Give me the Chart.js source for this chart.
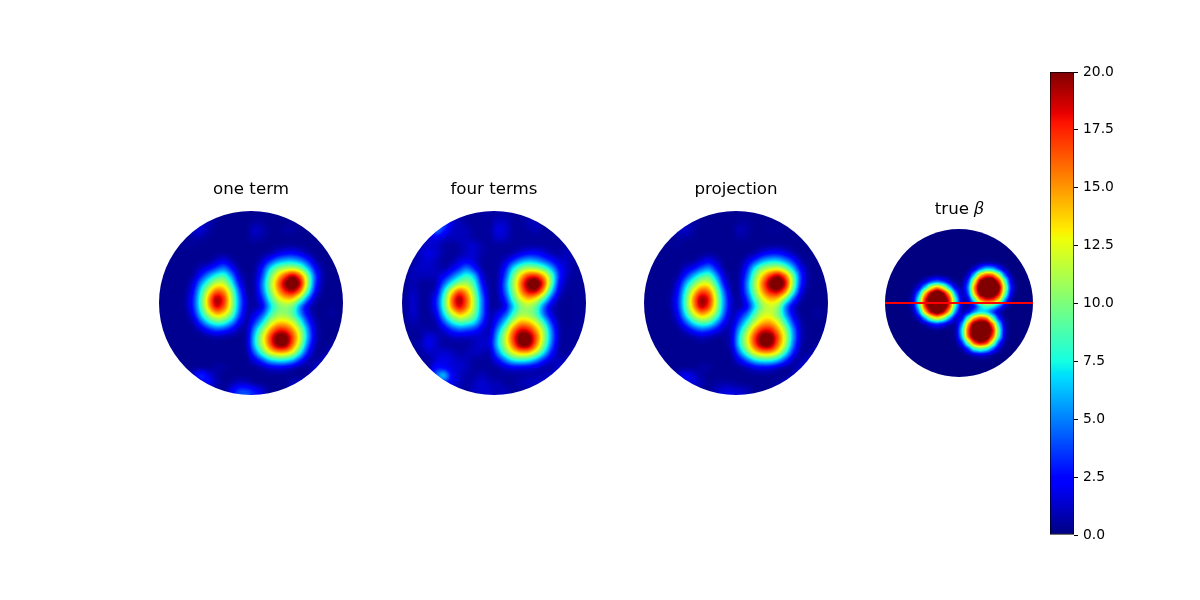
<!DOCTYPE html>
<html>
<head>
<meta charset="utf-8">
<style>
html,body{margin:0;padding:0;background:#fff;width:1200px;height:600px;overflow:hidden}
canvas{position:absolute;display:block}
</style>
<script src="https://cdn.jsdelivr.net/npm/chart.js@4"></script>
</head>
<body>
<canvas id="c0"></canvas><canvas id="c1"></canvas><canvas id="c2"></canvas><canvas id="c3"></canvas><canvas id="cb"></canvas>
<script>
const panelTitles = ['one term', 'four terms', 'projection', 'true \u{1D6FD}'];
const colorbarTicks = [0, 2.5, 5, 7.5, 10, 12.5, 15, 17.5, 20];
const trueLineX = [-0.5, 23.5];
const trueLineY = [11.5, 11.5];

const oneTerm = [
[.3,.3,.3,.3,.3,.3,.3,.3,.3,.3,.4,.4,.4,.4,.3,.3,.3,.3,.3,.3,.3,.3,.3,.3],
[.3,.3,.3,.3,.3,1,1,.5,.3,.3,.3,.3,.5,.5,.3,.3,.3,.3,.3,.3,.3,.3,.3,.3],
[.3,.3,.3,.3,1.5,1.8,.7,.3,.3,.3,.3,.3,1.5,1,.3,.3,.7,.7,.3,.3,.3,.3,.3,.3],
[.3,.3,.3,.3,.7,.7,.4,.3,.3,.3,.3,.3,1,.6,.3,.3,.3,.3,.3,.3,.3,.3,.3,.3],
[.3,.3,.3,.6,.5,.3,.3,.3,.3,.3,.3,.3,.3,.3,.3,.3,.4,.4,.3,.3,.3,.3,.3,.3],
[.3,.3,.3,.3,.3,.3,.3,.3,.3,.3,.3,.3,.3,.3,.5,1.3,2,2.2,1.5,.5,.3,.3,.3,.3],
[.3,.3,.3,.3,.3,.3,.3,1,2,.7,.3,.3,.3,1,3,5,6,6,5,3,.5,.3,.3,.3],
[.3,.3,.3,.3,.3,1,2,3.5,5,2.5,.4,.3,.3,2.5,7,10,11,11.5,10,6,2,.4,.3,.3],
[.3,.3,.3,.3,.4,2.8,5.5,8,9,5.5,1,.3,.5,3.5,9.5,13.5,17,20,16.5,10,3.2,.5,.3,.3],
[.3,.3,.3,.3,1.4,5.5,9,12,12,8,2.2,.3,.6,4.8,10.5,15.5,20.5,23,19.5,10.5,2.8,.4,.3,.3],
[.3,.3,.3,.3,2.2,7.5,12.5,16.5,15.5,10.5,4,.3,.5,4.3,10,14.5,18,19.5,16,8.5,1.7,.3,.3,.3],
[.3,.3,.3,.5,2.8,8.5,15,20.5,18,11.5,5,.8,.4,2.8,8,12,14,14,10,4,.6,.3,.3,.3],
[.4,.3,.3,.5,2.8,8.5,14.5,19.5,17,11.5,5,.8,.3,1.4,6,9.5,10.5,9.5,4.2,1,.3,.3,.4,.3],
[.3,.3,.3,.3,2,7,11.5,14.5,13.5,10,4,.4,1.8,3.6,8,10.5,10.5,9,5,1.6,.3,.3,.7,.3],
[.3,.3,.3,.3,.7,4,7.5,9.5,9,6,2.2,.4,3,6.5,11,13.5,13.5,12,8,3.2,.6,.3,.3,.3],
[.3,.3,.3,.3,.3,1.1,2.8,4,3.4,2.2,.7,.4,5.5,10,14.5,17.5,17.5,15,11,5,.8,.3,.3,.3],
[.3,.3,.3,.3,.3,.3,.4,.6,.5,.3,.3,.4,7,12,17,21.5,21.5,17,12,5.5,.8,.3,.3,.3],
[.3,.3,.3,.3,.3,.3,.3,.3,.3,.3,.3,.5,7,11.5,16.5,21,21,16,11,4,.6,.3,.6,.3],
[.3,.3,.3,.3,.3,.3,.3,.3,.3,.3,.3,.3,4.5,9,13,14.5,14.5,12.5,7.5,2.3,.3,.3,1.5,.3],
[.3,.3,.3,.3,.3,.3,.3,.3,.3,.3,.3,.3,1.6,3.8,6.5,7.5,7.5,6,2.8,.7,.3,1.6,1,.3],
[.3,.3,.3,.3,.3,.3,.3,.7,.7,.3,.3,.3,.3,.6,1.2,1.5,1.3,.6,.3,.3,1.5,1.5,.3,.3],
[.3,.3,.3,.3,1.6,4,2,.7,.3,.3,.3,.3,.3,.3,.3,.3,.3,.3,.3,.6,1.5,.3,.3,.3],
[.3,.3,.3,.3,.3,2,2.5,1,.3,.7,1.2,1,.3,.3,.3,.3,.3,1,1.5,1.5,.3,.3,.3,.3],
[.3,.3,.3,.3,.3,.3,.3,.3,.3,2,4,4,3,1.6,.3,.3,.3,1.5,1.8,.3,.3,.3,.3,.3]
];

const fourTerms = [
[.5,.5,.5,.5,.5,.5,.5,.5,.5,.5,.7,.7,.7,.7,.5,.5,.5,.5,.5,.5,.5,.5,.5,.5],
[.5,.5,.5,.5,1.5,5,1.5,1,.6,.5,.5,.5,1.2,1.2,.5,.5,1,1.2,.6,.5,.5,.5,.5,.5],
[.5,.5,.5,1.5,6,3,1.2,1,1,.5,.5,.5,2,1.5,.5,.5,.6,1,.5,.5,.5,.5,.5,.5],
[.5,.5,.5,1.5,2,1.2,1,1.2,1,.5,.5,.5,1.6,1.2,.5,.5,.5,.5,.5,.5,.5,.5,.5,.5],
[.5,.5,1,1.3,1.2,.7,.5,.7,1.2,1.5,.7,.5,.5,.5,.5,.5,.5,.5,.5,.5,.5,.7,.5,.5],
[.5,.5,1.2,2,1.4,.7,.5,.5,1.2,1.5,.7,.5,.5,.5,.6,1.3,2,2.2,1.5,.7,.6,1.2,.5,.5],
[.5,.5,1.2,1.5,1,.5,.5,1.5,2,1.2,.5,.5,.5,1,3,5,6,5.5,4,2.5,1.2,1.2,.5,.5],
[.5,1,1.2,1.2,1,.5,1.5,3,5,2.5,.5,.5,.5,2.5,7,10,11,10.5,9,6,2.5,1.2,.5,.5],
[.5,1,1,1,1,2,4,6.5,8.5,6.5,1,.5,.5,3.5,9.5,14,17.5,18,15,10,3.2,1,.5,.5],
[.5,1,.5,.5,.6,4.2,7.5,10.5,11,8.5,2.2,.4,.5,4.8,10.5,16,21,23,18,10,2.2,.7,.5,.5],
[.5,1.2,.5,.5,1.2,7,13,17,14.5,10,3.5,.4,.5,4.3,10,15,19,19.5,15,7,1.6,.5,.5,.5],
[.5,1.5,.5,.5,2.5,8.5,16,20.5,16.5,11,4.5,.4,.5,2.8,8.5,12.5,14.5,13,9,3.5,.6,.4,.5,.5],
[.5,1.5,.5,.5,2.5,8.5,15.5,19.5,16,11,4.5,.4,.5,1.4,6,10,11,9.5,4.2,1,.4,.4,.5,.5],
[.5,1.5,.5,.5,1.5,7,11.5,14.5,13,10,4.5,.5,1.8,3.6,8,11,10.5,9,4.5,1.3,.4,.4,.5,.5],
[.5,1,.5,.5,.6,4,7.5,9.5,9,7.5,3.3,.5,3,6.5,11.5,14.5,14,12,8,3.2,.5,.4,.5,.5],
[.5,.5,.7,.7,.5,1.4,3.3,4.4,3.8,3.2,1.5,.6,5,10,15.5,18.5,18,15,11,5,.7,.5,.5,.5],
[.5,.5,.5,2,1.2,.5,1,1,1,1,1.2,1,6.5,12,17,21.5,21.5,17,11.5,5.5,.7,.5,.5,.5],
[.5,.5,1,2.2,1.2,.5,.5,.5,.5,1,1.5,1.2,7,11.5,16,21,21,16,10.5,4.5,.6,.5,.5,.5],
[.5,.5,.5,1.2,1.2,1.5,1.2,.5,1,1.2,1,.5,5,9.5,13,14.5,14.5,12,7.5,2.8,.5,.5,1,.5],
[.5,.5,.5,.5,1.4,2,1.5,1.2,1,.5,.5,.5,2.2,4.8,7.5,8,7.5,5.5,2.8,1,1,1,.5,.5],
[.5,.5,.5,.5,2.8,2,1.5,1.4,1,.5,.5,.5,.5,1.2,1.5,1.5,1.2,1,.5,.5,1.5,1.2,.5,.5],
[.5,.5,.5,.5,5,8,2,1.2,.7,.6,1.2,.6,.5,.5,.5,.5,.7,.7,1,1.5,2,.5,.5,.5],
[.5,.5,.5,.5,.5,3,2,1.2,.5,1.2,1.5,1,1,.5,.5,1,1.2,1.3,1.5,.5,.5,.5,.5,.5],
[.5,.5,.5,.5,.5,.5,.5,.5,.5,1.2,1.5,1.3,1,1.2,.5,.5,.5,.5,.5,.5,.5,.5,.5,.5]
];

const projection = [
[.3,.3,.3,.3,.3,.3,.3,.3,.3,.3,.4,.4,.4,.4,.3,.3,.3,.3,.3,.3,.3,.3,.3,.3],
[.3,.3,.3,.3,.3,1,.7,.4,.3,.3,.3,.3,.5,.5,.3,.3,.3,.3,.3,.3,.3,.3,.3,.3],
[.3,.3,.3,.3,1.2,1.5,.6,.3,.3,.3,.3,.3,1.2,.7,.3,.3,.5,.5,.3,.3,.3,.3,.3,.3],
[.3,.3,.3,.3,.6,.6,.4,.3,.3,.3,.3,.3,.7,.5,.3,.3,.3,.3,.3,.3,.3,.3,.3,.3],
[.3,.3,.3,.5,.5,.3,.3,.3,.3,.3,.3,.3,.3,.3,.3,.3,.4,.4,.3,.3,.3,.3,.3,.3],
[.3,.3,.3,.3,.3,.3,.3,.3,.3,.3,.3,.3,.3,.3,.6,1.5,2.2,2.4,1.6,.6,.3,.3,.3,.3],
[.3,.3,.3,.3,.3,.3,.3,1.1,2.2,1,.3,.3,.3,1.2,3.2,5.5,6.5,6.5,5,3,.6,.3,.3,.3],
[.3,.3,.3,.3,.3,1.2,2.2,4,5.5,2.5,.4,.3,.3,2.8,7.5,10.5,11.5,12,10,6,2,.4,.3,.3],
[.3,.3,.3,.3,.5,3,6,8.5,9.5,5.5,1,.3,.5,4,10,14,17.5,20,16.5,10,3.2,.5,.3,.3],
[.3,.3,.3,.3,1.5,6,9.5,12.5,12.5,8,2.2,.3,.6,5.3,11,16,21,23,19.5,10.5,2.8,.4,.3,.3],
[.3,.3,.3,.3,2.4,8,13,17,16,10.5,4,.3,.5,4.8,10.5,15,18.5,19.5,16,8.5,1.7,.3,.3,.3],
[.3,.3,.3,.5,3,9,15.5,20.5,18.5,11.5,5,.8,.4,3.3,8.5,12.5,14.5,14,10,4,.6,.3,.3,.3],
[.4,.3,.3,.5,3,9,15,20,17.5,11.5,5,.8,.4,1.7,6.5,10.5,12,11,4.5,1,.3,.3,.4,.3],
[.3,.3,.3,.3,2.2,7.5,12,15,13.5,10,4,.5,2.2,4.5,9,12,12,10,5.5,1.6,.3,.3,.7,.3],
[.3,.3,.3,.3,1.1,4.4,8,10,9.5,6,2.2,.6,3.8,7.5,11.5,14,14.5,12.5,8,3.2,.6,.3,.3,.3],
[.3,.3,.3,.3,.3,1.4,3.3,4.5,3.8,2.4,.7,1,6,10.5,15,18,18,15,11,5,.8,.3,.3,.3],
[.3,.3,.3,.3,.3,.3,.5,1,.7,.4,.3,1,7.5,12.5,17.5,21.5,21.5,17,12,5.5,.8,.3,.3,.3],
[.3,.3,.3,.3,.3,.3,.3,.3,.3,.3,.3,1,7.5,12,17,21,21,16,11.5,4.5,.6,.3,.6,.3],
[.3,.3,.3,.3,.3,.3,.3,.3,.3,.3,.3,.4,5,9.5,13.5,15,15,13,8,2.8,.4,.3,1.5,.3],
[.3,.3,.3,.3,.3,.3,.3,.3,.3,.3,.3,.3,1.9,4.3,7,8,8,6.5,3.3,.7,.4,1.8,1.5,.3],
[.3,.3,.3,.3,.3,.3,.3,.7,.7,.3,.3,.3,.3,.7,1.4,1.7,1.5,.7,.3,.4,1.5,2.5,.3,.3],
[.3,.3,.3,.3,1.4,2.5,1.5,.6,.3,.3,.3,.3,.3,.3,.3,.3,.3,.3,.3,1,2,.3,.3,.3],
[.3,.3,.3,.3,.3,1.6,1.8,1,.3,.6,.7,.6,.3,.3,.3,.3,.3,.7,1.3,1.5,.3,.3,.3,.3],
[.3,.3,.3,.3,.3,.3,.3,.3,.3,1.2,1.8,1.8,1.5,1.1,.3,.3,.3,1,1.2,.3,.3,.3,.3,.3]
];

const trueBeta = [
[0,0,0,0,0,0,0,0,0,0,0,0,0,0,0,0,0,0,0,0,0,0,0,0],
[0,0,0,0,0,0,0,0,0,0,0,0,0,0,0,0,0,0,0,0,0,0,0,0],
[0,0,0,0,0,0,0,0,0,0,0,0,0,0,0,0,0,0,0,0,0,0,0,0],
[0,0,0,0,0,0,0,0,0,0,0,0,0,0,0,0,0,0,0,0,0,0,0,0],
[0,0,0,0,0,0,0,0,0,0,0,0,0,0,0,0,0,0,0,0,0,0,0,0],
[0,0,0,0,0,0,0,0,0,0,0,0,0,0,0,.3,.5,.4,.2,0,0,0,0,0],
[0,0,0,0,0,0,0,0,0,0,0,0,0,0,1.2,4,6.5,6,3,.6,0,0,0,0],
[0,0,0,0,0,0,0,0,.2,0,0,0,0,.9,6,14,17,16.5,11.5,4,.4,0,0,0],
[0,0,0,0,0,.2,1,3,4,3,1,.2,0,3,12,20,22,22,18,9,1.5,0,0,0],
[0,0,0,0,.2,1.3,6,12,15,12,6,1.3,.5,4.5,15.5,22,22,22,21,11.5,2.5,0,0,0],
[0,0,0,0,.4,5,14.5,20,24,20,14.5,5,.6,3.5,14,21,22,22,19,10,1.7,0,0,0],
[0,0,0,0,.8,8,18,22,22,22,18,8,.8,1.3,8.5,16,18.5,18,14.5,5.5,.5,0,0,0],
[0,0,0,0,.8,7.5,18,22,22,22,18,7.5,.8,.2,1.7,6.5,9,8,5,1,.1,0,0,0],
[0,0,0,0,.3,4.5,14,19.5,22,19.5,14,4.5,.5,1.5,5,7,6,3.3,.7,0,0,0,0,0],
[0,0,0,0,0,1,5.5,11,13.5,11,5.5,1,1.6,8.5,15,17,16,9,2.8,.2,0,0,0,0],
[0,0,0,0,0,0,.6,2,3,2,.6,.4,5,15,21,22,22,16.5,7,.8,0,0,0,0],
[0,0,0,0,0,0,0,0,.2,0,0,.5,7,17,22,22,22,19,9,1,0,0,0,0],
[0,0,0,0,0,0,0,0,0,0,0,.4,6,16.5,22,22,22,17,8,.9,0,0,0,0],
[0,0,0,0,0,0,0,0,0,0,0,0,2.8,10,17,19.5,18,11.5,3.5,.3,0,0,0,0],
[0,0,0,0,0,0,0,0,0,0,0,0,.4,3,8,9.5,8,4,.8,0,0,0,0,0],
[0,0,0,0,0,0,0,0,0,0,0,0,0,.2,.8,1.2,.9,.3,0,0,0,0,0,0],
[0,0,0,0,0,0,0,0,0,0,0,0,0,0,0,0,0,0,0,0,0,0,0,0],
[0,0,0,0,0,0,0,0,0,0,0,0,0,0,0,0,0,0,0,0,0,0,0,0],
[0,0,0,0,0,0,0,0,0,0,0,0,0,0,0,0,0,0,0,0,0,0,0,0]
];

const grids = [oneTerm, fourTerms, projection, trueBeta];

// jet colormap definition (matplotlib)
const jetR = [[0,0],[.35,0],[.66,1],[.89,1],[1,.5]];
const jetG = [[0,0],[.125,0],[.375,1],[.64,1],[.91,0],[1,0]];
const jetB = [[0,.5],[.11,1],[.34,1],[.65,0],[1,0]];
function seg(tbl, t){
  for(let i=1;i<tbl.length;i++){
    if(t<=tbl[i][0]){
      const [a,va]=tbl[i-1],[b,vb]=tbl[i];
      return va+(vb-va)*(t-a)/(b-a);
    }
  }
  return tbl[tbl.length-1][1];
}
function jetRGB(v){
  const t=Math.min(1,Math.max(0,v/20));
  return [Math.round(255*seg(jetR,t)),Math.round(255*seg(jetG,t)),Math.round(255*seg(jetB,t))];
}
function jet(v){ return `rgb(${jetRGB(v).join(',')})`; }

// marks are first painted as value levels, smoothed, then coloured through jet
const LEVEL_MAX=24;
function level(v){ const g=Math.round(Math.min(v,LEVEL_MAX)/LEVEL_MAX*255); return `rgb(${g},${g},${g})`; }
const lut=[]; for(let i=0;i<256;i++) lut.push(jetRGB(i/255*LEVEL_MAX));

const FONT='"DejaVu Sans"';
const layouts=[
  {left:159,top:180,size:184,pad:11,blur:3,radius:5.9},
  {left:402,top:180,size:184,pad:11,blur:3,radius:5.9},
  {left:644,top:180,size:184,pad:11,blur:3,radius:5.9},
  {left:885,top:200,size:148,pad:9,blur:2,radius:4.8}
];

const diskPlugin={
  id:'disk',
  afterDatasetDraw(chart,args){
    if(args.index!==0) return;
    const a=chart.chartArea, ctx=chart.ctx;
    const w=Math.round(a.right-a.left), h=Math.round(a.bottom-a.top);
    const top=Math.round(a.top), left=Math.round(a.left);
    const off=document.createElement('canvas'); off.width=w; off.height=h;
    const oc=off.getContext('2d',{willReadFrequently:true});
    oc.drawImage(chart.canvas,left,top,w,h,0,0,w,h);
    const soft=document.createElement('canvas'); soft.width=w; soft.height=h;
    const sc=soft.getContext('2d',{willReadFrequently:true});
    sc.drawImage(off,0,0);
    sc.filter=`blur(${chart.options.plugins.disk.blur}px)`;
    sc.drawImage(off,0,0);
    sc.filter='none';
    const img=sc.getImageData(0,0,w,h), d=img.data;
    for(let i=0;i<d.length;i+=4){
      const c=lut[d[i]];
      d[i]=c[0];d[i+1]=c[1];d[i+2]=c[2];d[i+3]=255;
    }
    sc.putImageData(img,0,0);
    ctx.save();
    ctx.setTransform(1,0,0,1,0,0);
    ctx.clearRect(left,top,w,h);
    ctx.beginPath();
    ctx.arc(left+w/2,top+h/2,w/2,0,Math.PI*2);
    ctx.clip();
    ctx.drawImage(soft,left,top);
    ctx.restore();
  }
};

grids.forEach((grid,p)=>{
  const L=layouts[p];
  const cv=document.getElementById('c'+p);
  cv.width=L.size; cv.height=L.size+20+L.pad;
  cv.style.left=L.left+'px'; cv.style.top=L.top+'px';
  const pts=[],cols=[];
  grid.forEach((row,r)=>row.forEach((v,c)=>{pts.push({x:c,y:r,v});cols.push(level(v));}));
  const datasets=[{data:pts,order:2,pointStyle:'rect',pointRadius:L.radius,pointBorderWidth:0,pointBackgroundColor:cols,pointHoverRadius:L.radius,clip:0}];
  if(p===3){
    datasets.push({data:trueLineX.map((x,i)=>({x,y:trueLineY[i]})),order:1,showLine:true,pointRadius:0,borderColor:'#ff0000',borderWidth:2,clip:false});
  }
  new Chart(cv,{
    type:'scatter',
    data:{datasets},
    plugins:[diskPlugin],
    options:{
      responsive:false,animation:false,
      layout:{padding:0,autoPadding:false},
      scales:{
        x:{type:'linear',min:-.5,max:23.5,display:false},
        y:{type:'linear',min:-.5,max:23.5,reverse:true,display:false}
      },
      plugins:{
        legend:{display:false},tooltip:{enabled:false},
        disk:{blur:L.blur},
        title:{display:true,text:panelTitles[p],color:'#000',font:{family:FONT,size:16.67,weight:'normal',lineHeight:1.2},padding:{top:0,bottom:L.pad}}
      }
    }
  });
});

const jetStops=[...new Set([...jetR,...jetG,...jetB].map(s=>s[0]))].sort((a,b)=>a-b);
const cb=document.getElementById('cb');
cb.width=84; cb.height=503;
cb.style.left='1048px'; cb.style.top='52px';
new Chart(cb,{
  type:'bar',
  data:{labels:[''],datasets:[{
    data:[[colorbarTicks[0],colorbarTicks[colorbarTicks.length-1]]],
    barPercentage:1,categoryPercentage:1,borderWidth:1,borderColor:'#000',borderSkipped:false,
    backgroundColor(ctx){
      const a=ctx.chart.chartArea;
      if(!a) return '#000080';
      const g=ctx.chart.ctx.createLinearGradient(0,a.bottom,0,a.top);
      jetStops.forEach(t=>g.addColorStop(t,jet(t*20)));
      return g;
    }
  }]},
  options:{
    responsive:false,animation:false,
    layout:{padding:{left:2,top:20,bottom:20,right:0},autoPadding:false},
    scales:{
      x:{display:false},
      y:{
        position:'right',min:0,max:20,
        afterFit(s){s.width=58;},
        afterBuildTicks(s){s.ticks=colorbarTicks.map(value=>({value}));},
        grid:{drawOnChartArea:false,drawTicks:true,tickLength:4,tickColor:'#000',tickWidth:1},
        border:{display:false},
        ticks:{autoSkip:false,color:'#000',padding:5,font:{family:FONT,size:13.89},maxRotation:0,callback:v=>Number(v).toFixed(1)}
      }
    },
    plugins:{legend:{display:false},tooltip:{enabled:false}}
  }
});
</script>
</body>
</html>
